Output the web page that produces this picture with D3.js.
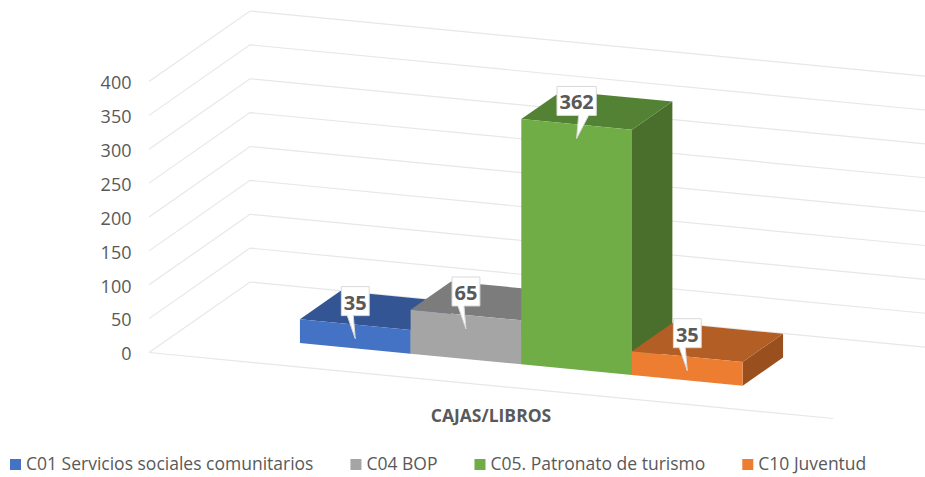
<!DOCTYPE html>
<html>
<head>
<meta charset="utf-8">
<script src="https://cdn.jsdelivr.net/npm/d3@7"></script>
<style>
  html, body { margin: 0; padding: 0; background: #fff; overflow: hidden; }
  text { font-family: "Open Sans", sans-serif; }
</style>
</head>
<body>
<div id="chart"></div>
<script>
var seriesNames = ["C01 Servicios sociales comunitarios", "C04 BOP", "C05. Patronato de turismo", "C10 Juventud"];
var seriesValues = [35, 65, 362, 35];
var tickValues = [0, 50, 100, 150, 200, 250, 300, 350, 400];
var categoryLabel = "CAJAS/LIBROS";

var frontColors = ["#4472C4", "#A5A5A5", "#70AD47", "#ED7D31"];
var topColors = ["#335593", "#7C7C7C", "#548235", "#B25E24"];
var sideColors = ["#2A4675", "#646464", "#4A6E2C", "#9A4F1E"];

var width = 925, height = 477;

var svg = d3.select("#chart").append("svg")
  .attr("width", width)
  .attr("height", height)
  .style("display", "block");

// Oblique projection of the 3D box: floor corner, width axis and depth axis
var origin = {x: 149, y: 352.5};
var along = {x: 684, y: 66};
var deep = {x: 101, y: -70.5};

var y = d3.scaleLinear().domain([0, 400]).range([0, 271]);
var u = d3.scaleBand().domain(seriesNames).range([0, 1]).paddingInner(0).paddingOuter(1.09);

function project(a, value, d) {
  return [
    origin.x + a * along.x + d * deep.x,
    origin.y + a * along.y + d * deep.y - y(value)
  ];
}

function poly(points) {
  return "M" + points.map(function(p) { return p.join(","); }).join("L") + "Z";
}

// Walls
var grid = svg.append("g")
  .attr("fill", "none")
  .attr("stroke", "#E7E7E7")
  .attr("stroke-width", 1.2);

tickValues.forEach(function(t) {
  grid.append("path")
    .attr("d", "M" + [project(0, t, 0), project(0, t, 1), project(1, t, 1)].map(String).join("L"));
});
grid.append("path")
  .attr("d", "M" + project(0, 0, 0) + "L" + project(1, 0, 0));

// Value axis
var axisScale = d3.scaleLinear().domain([0, 400]).range([origin.y + 1.5, origin.y + 1.5 - 271]);
var axis = svg.append("g")
  .attr("transform", "translate(131.5,0)")
  .call(d3.axisLeft(axisScale).tickValues(tickValues).tickSize(0).tickPadding(0));
axis.select(".domain").remove();
axis.selectAll("text")
  .style("font-size", "18px")
  .style("fill", "#595959");

// Bars, left to right so each one covers the side of the previous one
var depthStart = 0.3, depthEnd = 0.7;

var bars = svg.append("g").selectAll("g")
  .data(seriesNames)
  .enter()
  .append("g");

bars.append("path")
  .attr("fill", function(d, i) { return sideColors[i]; })
  .attr("d", function(d, i) {
    var a = u(d) + u.bandwidth(), v = seriesValues[i];
    return poly([project(a, 0, depthStart), project(a, 0, depthEnd), project(a, v, depthEnd), project(a, v, depthStart)]);
  });

bars.append("path")
  .attr("fill", function(d, i) { return topColors[i]; })
  .attr("d", function(d, i) {
    var a = u(d), b = a + u.bandwidth(), v = seriesValues[i];
    return poly([project(a, v, depthStart), project(b, v, depthStart), project(b, v, depthEnd), project(a, v, depthEnd)]);
  });

bars.append("path")
  .attr("fill", function(d, i) { return frontColors[i]; })
  .attr("d", function(d, i) {
    var a = u(d), b = a + u.bandwidth(), v = seriesValues[i];
    return poly([project(a, 0, depthStart), project(b, 0, depthStart), project(b, v, depthStart), project(a, v, depthStart)]);
  });

// Data callouts
var labels = svg.append("g").selectAll("g")
  .data(seriesNames)
  .enter()
  .append("g")
  .attr("transform", function(d, i) {
    var p = project(u(d) + u.bandwidth() / 2, seriesValues[i], depthStart);
    return "translate(" + p[0] + "," + (p[1] + 14) + ")";
  });

var bubbles = labels.append("path")
  .attr("fill", "#fff")
  .attr("stroke", "#D9D9D9")
  .attr("stroke-width", 1);

var labelText = labels.append("text")
  .attr("text-anchor", "middle")
  .attr("y", -29)
  .style("font-size", "20px")
  .style("font-weight", "700")
  .style("fill", "#595959")
  .text(function(d, i) { return seriesValues[i]; });

labelText.each(function(d, i) {
  var w = this.getBBox().width + 5;
  var l = -w / 2, r = w / 2, bottom = -23, top = bottom - 29;
  // the tall bar has its pointer leaning the other way
  var tail = seriesValues[i] > 100 ? [2, 12] : [-8, -2];
  d3.select(bubbles.nodes()[i]).attr("d",
    "M" + l + "," + top + "H" + r + "V" + bottom +
    "H" + tail[1] + "L0,0L" + tail[0] + "," + bottom + "H" + l + "Z");
});

// Category title
svg.append("text")
  .attr("x", 491)
  .attr("y", 422)
  .attr("text-anchor", "middle")
  .style("font-size", "17.5px")
  .style("font-weight", "700")
  .style("fill", "#595959")
  .text(categoryLabel);

// Legend
var legendX = 10;
seriesNames.forEach(function(name, i) {
  svg.append("rect")
    .attr("x", legendX)
    .attr("y", 459)
    .attr("width", 11)
    .attr("height", 11)
    .attr("fill", frontColors[i]);
  var t = svg.append("text")
    .attr("x", legendX + 16)
    .attr("y", 470)
    .style("font-size", "17.5px")
    .style("fill", "#595959")
    .text(name);
  legendX += 16 + t.node().getComputedTextLength() + 37;
});
</script>
</body>
</html>
